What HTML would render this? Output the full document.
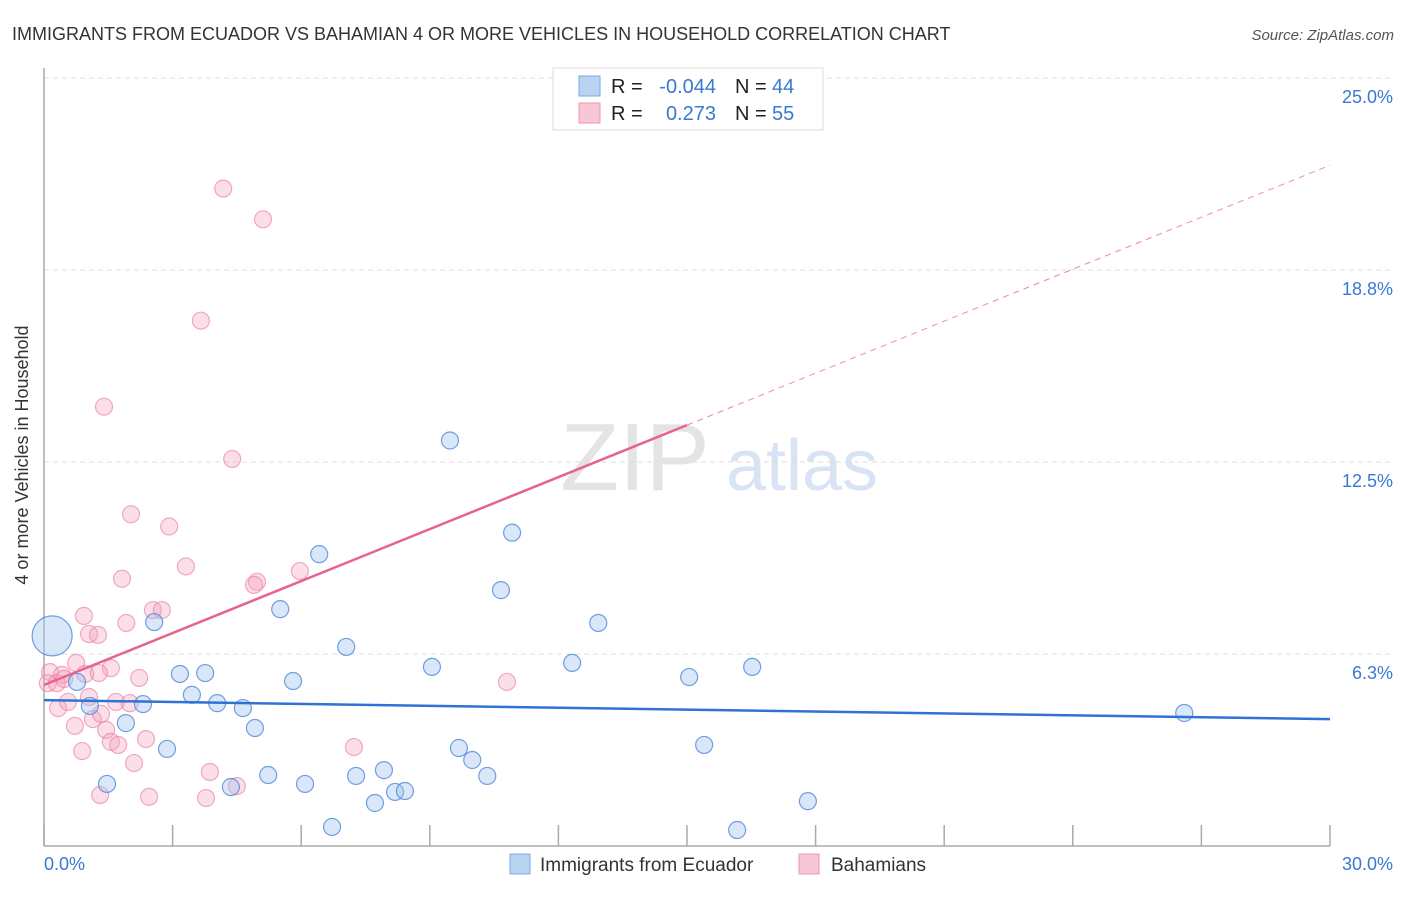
<!DOCTYPE html>
<html><head><meta charset="utf-8"><style>
body{margin:0;background:#fff;font-family:"Liberation Sans",sans-serif;}
svg text{font-family:"Liberation Sans",sans-serif;}
</style></head><body>
<svg id="chart" width="1406" height="892" viewBox="0 0 1406 892" xmlns="http://www.w3.org/2000/svg">
<text x="12" y="40" font-size="18" fill="#333">IMMIGRANTS FROM ECUADOR VS BAHAMIAN 4 OR MORE VEHICLES IN HOUSEHOLD CORRELATION CHART</text>
<text x="1394" y="40" font-size="15" fill="#555" font-style="italic" text-anchor="end">Source: ZipAtlas.com</text>
<g>
<text x="635" y="490" font-size="96" fill="#e4e4e4" text-anchor="middle" font-family="Liberation Serif,serif">ZIP</text>
<text x="802" y="490" font-size="72" fill="#d8e4f4" text-anchor="middle">atlas</text>
</g>
<g id="grid"></g>
<g id="axes"></g>
<g id="marks"></g>
<text x="28" y="455" font-size="18" fill="#333" text-anchor="middle" transform="rotate(-90 28 455)">4 or more Vehicles in Household</text>
<g>
<rect x="553" y="68" width="270" height="62" fill="#fff" stroke="#ddd"/>
<rect x="579" y="76" width="21" height="20" fill="#b9d3f3" stroke="#7aa8e6"/>
<rect x="579" y="103" width="21" height="20" fill="#f8c6d6" stroke="#ef96b2"/>
<text x="611" y="93" font-size="20" fill="#222">R = </text><text x="716" y="93" font-size="20" fill="#3a78d4" text-anchor="end">-0.044</text>
<text x="735" y="93" font-size="20" fill="#222">N = </text><text x="772" y="93" font-size="20" fill="#3a78d4">44</text>
<text x="611" y="120" font-size="20" fill="#222">R = </text><text x="716" y="120" font-size="20" fill="#3a78d4" text-anchor="end">0.273</text>
<text x="735" y="120" font-size="20" fill="#222">N = </text><text x="772" y="120" font-size="20" fill="#3a78d4">55</text>
</g>
<g>
<rect x="510" y="854" width="20" height="20" fill="#b9d3f3" stroke="#7aa8e6"/>
<text x="540" y="871" font-size="19" fill="#333">Immigrants from Ecuador</text>
<rect x="799" y="854" width="20" height="20" fill="#f8c6d6" stroke="#ef96b2"/>
<text x="831" y="871" font-size="19" fill="#333">Bahamians</text>
</g>
</svg>
<script>
const xTicks=[0,3,6,9,12,15,18,21,24,27,30];
const yTicks=[6.25,12.5,18.75,25];
const yTickLabels=["6.3%","12.5%","18.8%","25.0%"];
const xEndLabels=["0.0%","30.0%"];
const ecuadorX=[0.19,2.57,3.17,3.76,3.45,4.04,4.64,4.92,5.51,5.81,6.42,7.05,2.87,1.91,2.31,1.07,0.77,1.47,4.36,5.23,6.09,6.72,7.28,7.72,7.93,8.19,8.42,9.05,9.47,9.68,9.99,10.34,10.66,10.92,12.32,12.93,15.05,15.4,16.17,16.52,17.82,26.6];
const ecuadorY=[6.84,7.29,5.6,5.63,4.92,4.65,4.49,3.84,7.71,5.37,9.5,6.48,3.16,4.0,4.62,4.56,5.34,2.02,1.92,2.31,2.02,0.62,2.28,1.4,2.47,1.76,1.79,5.83,13.2,3.19,2.8,2.28,8.33,10.2,5.96,7.26,5.5,3.29,0.52,5.83,1.46,4.33];
const bahX=[4.18,5.11,3.66,1.4,4.39,2.03,2.92,3.31,1.82,4.97,4.9,5.97,2.54,2.75,0.93,1.92,1.05,1.26,0.75,1.56,2.22,0.14,0.42,0.09,0.3,0.47,0.96,1.28,1.05,0.33,0.56,0.72,1.14,1.33,1.68,2.0,1.45,1.56,1.73,2.38,0.89,2.1,1.31,2.45,3.87,3.78,4.5,7.23,10.8];
const bahY=[21.4,20.4,17.1,14.3,12.6,10.8,10.4,9.1,8.7,8.6,8.5,8.95,7.68,7.68,7.49,7.26,6.9,6.87,5.96,5.79,5.47,5.66,5.57,5.3,5.3,5.44,5.6,5.63,4.85,4.49,4.69,3.91,4.13,4.3,4.69,4.65,3.78,3.39,3.29,3.48,3.09,2.7,1.66,1.6,2.41,1.56,1.95,3.22,5.34];
const ecuadorTrend=[4.75,4.13];
const bahTrend=[5.24,22.16];
const bahSolidEnd=15;
const NS="http://www.w3.org/2000/svg";
const X=v=>44+v/30*1286, Y=v=>846-v*30.72;
function mk(t,a,p){const e=document.createElementNS(NS,t);for(const k in a)e.setAttribute(k,a[k]);document.getElementById(p).appendChild(e);return e;}
yTicks.forEach((t,i)=>{
 const g=mk('line',{x1:44,x2:1394,y1:Y(t),y2:Y(t),stroke:'#ddd','stroke-dasharray':'5,4'},'grid');
 
 
 const l=mk('text',{x:1393,y:Y(t)+25,'font-size':18,fill:'#3a78d4','text-anchor':'end'},'axes');
 l.textContent=yTickLabels[i];
 
 
});
const ya=mk('line',{x1:44,x2:44,y1:68,y2:846,stroke:'#aaa','stroke-width':1.5},'axes');


const xa=mk('line',{x1:44,x2:1330,y1:846,y2:846,stroke:'#aaa','stroke-width':1.5},'axes');


xTicks.forEach(t=>{
 const k=mk('line',{x1:X(t),x2:X(t),y1:825,y2:846,stroke:'#aaa','stroke-width':1.5},'axes');
 
 
});
const xl0=mk('text',{x:44,y:870,'font-size':18,fill:'#3a78d4'},'axes');xl0.textContent=xEndLabels[0];


const xl1=mk('text',{x:1393,y:870,'font-size':18,fill:'#3a78d4','text-anchor':'end'},'axes');xl1.textContent=xEndLabels[1];


bahX.forEach((x,i)=>{
 const c=mk('circle',{cx:X(x),cy:Y(bahY[i]),r:8.5,fill:'rgba(244,160,188,0.35)',stroke:'rgba(232,120,156,0.6)','stroke-width':1.2},'marks');
 
 
});
ecuadorX.forEach((x,i)=>{
 const c=mk('circle',{cx:X(x),cy:Y(ecuadorY[i]),r:i===0?20:8.5,fill:'rgba(160,196,240,0.4)',stroke:'rgba(70,130,215,0.75)','stroke-width':1.2},'marks');
 
 
});
const slope=(bahTrend[1]-bahTrend[0])/30;
const ps=mk('line',{x1:X(0),y1:Y(bahTrend[0]),x2:X(bahSolidEnd),y2:Y(bahTrend[0]+slope*bahSolidEnd),stroke:'#e8628e','stroke-width':2.5},'marks');


const pd=mk('line',{x1:X(bahSolidEnd),y1:Y(bahTrend[0]+slope*bahSolidEnd),x2:X(30),y2:Y(bahTrend[1]),stroke:'#eb8aaa','stroke-width':1,'stroke-dasharray':'6,5'},'marks');


const bl=mk('line',{x1:X(0),y1:Y(ecuadorTrend[0]),x2:X(30),y2:Y(ecuadorTrend[1]),stroke:'#2f72d4','stroke-width':2.5},'marks');


</script>
</body></html>
